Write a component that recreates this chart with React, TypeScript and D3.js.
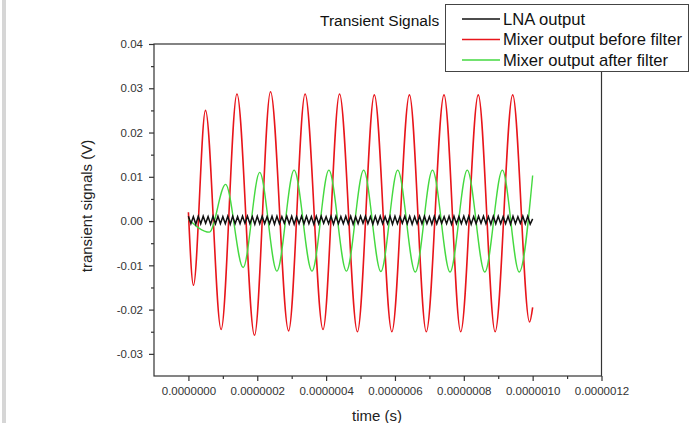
import { useEffect, useRef } from 'react';
import * as d3 from 'd3';

// times in microseconds, values in volts (extremes)
const redTimes = [0, 0.0146, 0.0496, 0.095, 0.141, 0.192, 0.2385, 0.291, 0.339, 0.391, 0.439, 0.491, 0.54, 0.591, 0.642, 0.691, 0.7425, 0.791, 0.842, 0.891, 0.942, 0.991, 1.0];
const redValues = [0.002, -0.0145, 0.025, -0.0245, 0.0287, -0.0258, 0.0292, -0.0248, 0.0287, -0.0245, 0.0287, -0.025, 0.0285, -0.025, 0.0285, -0.025, 0.0285, -0.025, 0.0285, -0.025, 0.0285, -0.0228, -0.0195];

const greenTimes = [0, 0.061, 0.108, 0.159, 0.207, 0.257, 0.307, 0.359, 0.408, 0.459, 0.509, 0.559, 0.608, 0.659, 0.709, 0.76, 0.81, 0.861, 0.912, 0.961, 1.0];
const greenValues = [0.0004, -0.0025, 0.0083, -0.0105, 0.011, -0.0113, 0.0115, -0.0113, 0.0115, -0.0113, 0.0115, -0.0114, 0.0115, -0.0115, 0.0115, -0.0115, 0.0115, -0.0115, 0.0115, -0.0115, 0.0103];

// LNA output: fast zigzag, successive crest / trough values spread evenly over 0..1 us
const lnaStart = 0;
const lnaEnd = 1.0;
const lnaValues = [
  0.0011, -0.0006, 0.0010, -0.0007, 0.0011, -0.0006, 0.0011, -0.0005, 0.0010, -0.0007,
  0.0011, -0.0006, 0.0011, -0.0006, 0.0010, -0.0006, 0.0011, -0.0007, 0.0011, -0.0006,
  0.0010, -0.0006, 0.0011, -0.0005, 0.0011, -0.0006, 0.0010, -0.0007, 0.0011, -0.0006,
  0.0011, -0.0006, 0.0010, -0.0006, 0.0011, -0.0007, 0.0011, -0.0006, 0.0010, -0.0005,
  0.0011, -0.0006, 0.0011, -0.0007, 0.0010, -0.0006, 0.0011, -0.0006, 0.0011, -0.0006,
  0.0010, -0.0007, 0.0011, -0.0006, 0.0011, -0.0005, 0.0010, -0.0006, 0.0011, -0.0007,
  0.0011, -0.0006, 0.0010, -0.0006, 0.0011, -0.0006, 0.0011, -0.0007, 0.0010, -0.0006,
  0.0011, -0.0005, 0.0011, -0.0006, 0.0010, -0.0007, 0.0011, -0.0006, 0.0011, -0.0006,
  0.0010, -0.0006, 0.0011, -0.0007, 0.0011, -0.0006, 0.0010, -0.0005, 0.0011, -0.0006,
  0.0011, -0.0007, 0.0010, -0.0006, 0.0011, -0.0006, 0.0011, -0.0006, 0.0010, -0.0007,
  0.0011, -0.0006, 0.0011, -0.0005, 0.0010, -0.0006, 0.0011, -0.0007, 0.0011, -0.0006,
  0.0010, -0.0006, 0.0011, -0.0006, 0.0011, -0.0007, 0.0010, -0.0006, 0.0011, -0.0005,
  0.0011, -0.0006, 0.0010, -0.0007, 0.0011, -0.0006, 0.0011, -0.0006, 0.0010, -0.0006,
  0.0011, -0.0007, 0.0011, -0.0006, 0.0010, -0.0005, 0.0011, -0.0006, 0.0011, -0.0007,
  0.0005
];

const xTicks = [0, 0.2, 0.4, 0.6, 0.8, 1.0, 1.2];
const xMinor = [0.1, 0.3, 0.5, 0.7, 0.9, 1.1];
const yTicks = [-0.03, -0.02, -0.01, 0, 0.01, 0.02, 0.03, 0.04];
const yMinor = [-0.025, -0.015, -0.005, 0.005, 0.015, 0.025, 0.035];

const series = [
  { name: 'LNA output', color: '#111111' },
  { name: 'Mixer output before filter', color: '#e8151b' },
  { name: 'Mixer output after filter', color: '#45d940' },
];

const W = 690;
const H = 423;

export default function App() {
  const ref = useRef<SVGSVGElement>(null);

  useEffect(() => {
    const svg = d3.select(ref.current);
    svg.selectAll('*').remove();
    const font = '"Liberation Sans", Arial, sans-serif';

    const left = 154, right = 601.5, top = 44, bottom = 376;
    const x = d3.scaleLinear().domain([-0.1, 1.2]).range([left, right]);
    const y = d3.scaleLinear().domain([-0.035, 0.04]).range([bottom, top]);

    svg.append('rect').attr('width', W).attr('height', H).attr('fill', '#fff');
    svg.append('rect').attr('x', 2).attr('y', 0).attr('width', 4).attr('height', H).attr('fill', '#d6d6d6');

    const line = d3.line<[number, number]>()
      .x(d => x(d[0])).y(d => y(d[1]))
      .curve(d3.curveMonotoneX);

    const plot = svg.append('g');
    const lnaIdx = d3.scaleLinear().domain([0, lnaValues.length - 1]).range([lnaStart, lnaEnd]);
    const lnaData = lnaValues.map((v, i) => [lnaIdx(i), v] as [number, number]);
    const redData = redTimes.map((t, i) => [t, redValues[i]] as [number, number]);
    const greenData = greenTimes.map((t, i) => [t, greenValues[i]] as [number, number]);

    plot.append('path').attr('d', line(redData)).attr('fill', 'none')
      .attr('stroke', series[1].color).attr('stroke-width', 1.6);
    plot.append('path').attr('d', line(greenData)).attr('fill', 'none')
      .attr('stroke', series[2].color).attr('stroke-width', 1.4);
    plot.append('path').attr('d', d3.line<[number, number]>().x(d => x(d[0])).y(d => y(d[1]))(lnaData))
      .attr('fill', 'none').attr('stroke', series[0].color).attr('stroke-width', 1.5);

    // frame
    svg.append('rect').attr('x', left).attr('y', top)
      .attr('width', right - left).attr('height', bottom - top)
      .attr('fill', 'none').attr('stroke', '#333').attr('stroke-width', 1.2);

    // axes
    const styleAxis = (g: d3.Selection<SVGGElement, unknown, null, undefined>) => {
      g.select('.domain').remove();
      g.selectAll('line').attr('stroke', '#333').attr('stroke-width', 1.2);
      g.selectAll('text').attr('fill', '#333').style('font-family', font).style('font-size', '11.5px');
    };

    const yAxis = svg.append('g').attr('transform', `translate(${left},0)`)
      .call(d3.axisLeft(y).tickValues(yTicks).tickSize(5).tickPadding(6)
        .tickFormat(d => (+d).toFixed(2)));
    styleAxis(yAxis);
    const yAxisMinor = svg.append('g').attr('transform', `translate(${left},0)`)
      .call(d3.axisLeft(y).tickValues(yMinor).tickSize(3).tickFormat(() => ''));
    styleAxis(yAxisMinor);

    const xAxis = svg.append('g').attr('transform', `translate(0,${bottom})`)
      .call(d3.axisBottom(x).tickValues(xTicks).tickSize(5).tickPadding(6)
        .tickFormat(d => (+d / 1e6).toFixed(7)));
    styleAxis(xAxis);
    const xAxisMinor = svg.append('g').attr('transform', `translate(0,${bottom})`)
      .call(d3.axisBottom(x).tickValues(xMinor).tickSize(3).tickFormat(() => ''));
    styleAxis(xAxisMinor);

    // labels
    svg.append('text').attr('x', 377).attr('y', 421).attr('text-anchor', 'middle')
      .style('font-family', font).style('font-size', '15px').attr('fill', '#222').text('time (s)');
    svg.append('text').attr('transform', 'translate(92,206) rotate(-90)').attr('text-anchor', 'middle')
      .style('font-family', font).style('font-size', '15px').attr('fill', '#222').text('transient signals (V)');
    svg.append('text').attr('x', 320).attr('y', 26)
      .style('font-family', font).style('font-size', '15.5px').attr('fill', '#111').text('Transient Signals');

    // legend
    const lg = svg.append('g');
    lg.append('rect').attr('x', 445.5).attr('y', 4.5).attr('width', 243).attr('height', 67)
      .attr('fill', '#fff').attr('stroke', '#444').attr('stroke-width', 1);
    series.forEach((s, i) => {
      const ly = 19 + i * 20.5;
      lg.append('line').attr('x1', 462).attr('x2', 500).attr('y1', ly).attr('y2', ly)
        .attr('stroke', s.color).attr('stroke-width', 1.3);
      lg.append('text').attr('x', 503).attr('y', ly + 5.5)
        .style('font-family', font).style('font-size', '16.6px').attr('fill', '#111').text(s.name);
    });
  }, []);

  return (
    <svg ref={ref} width={W} height={H} style={{ position: 'absolute', left: 0, top: 0 }} />
  );
}
